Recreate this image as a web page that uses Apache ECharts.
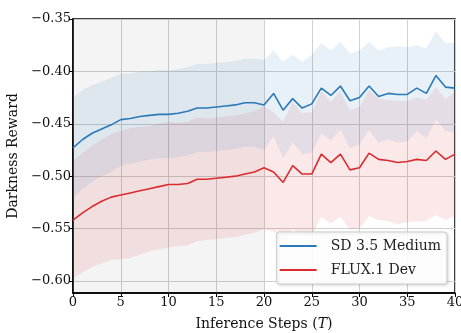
<!DOCTYPE html>
<html><head><meta charset="utf-8">
<script src="https://cdn.jsdelivr.net/npm/echarts@6/dist/echarts.min.js"></script>
<style>html,body{margin:0;padding:0;background:#fff}#c{width:461px;height:333px}</style>
</head><body><div id="c"></div>
<script>
const steps = [0,1,2,3,4,5,6,7,8,9,10,11,12,13,14,15,16,17,18,19,20,21,22,23,24,25,26,27,28,29,30,31,32,33,34,35,36,37,38,39,40];
const blueMean = [-0.473,-0.465,-0.459,-0.455,-0.451,-0.446,-0.445,-0.443,-0.442,-0.441,-0.441,-0.440,-0.438,-0.435,-0.435,-0.434,-0.433,-0.432,-0.430,-0.430,-0.432,-0.421,-0.437,-0.426,-0.435,-0.431,-0.416,-0.423,-0.414,-0.428,-0.425,-0.414,-0.424,-0.421,-0.422,-0.422,-0.416,-0.421,-0.404,-0.415,-0.416];
const blueStd = [0.048,0.047,0.046,0.045,0.045,0.044,0.043,0.043,0.042,0.042,0.042,0.042,0.042,0.042,0.042,0.042,0.042,0.042,0.042,0.042,0.043,0.041,0.046,0.042,0.044,0.047,0.043,0.043,0.042,0.045,0.045,0.042,0.044,0.044,0.046,0.045,0.041,0.043,0.042,0.042,0.043];
const redMean = [-0.542,-0.535,-0.529,-0.524,-0.520,-0.518,-0.516,-0.514,-0.512,-0.510,-0.508,-0.508,-0.507,-0.503,-0.503,-0.502,-0.501,-0.500,-0.498,-0.496,-0.492,-0.496,-0.506,-0.490,-0.498,-0.498,-0.479,-0.487,-0.479,-0.494,-0.492,-0.478,-0.484,-0.485,-0.487,-0.486,-0.484,-0.485,-0.476,-0.484,-0.479];
const redStd = [0.056,0.057,0.058,0.059,0.060,0.061,0.062,0.061,0.060,0.060,0.060,0.059,0.059,0.059,0.058,0.058,0.058,0.058,0.058,0.058,0.059,0.057,0.058,0.061,0.058,0.059,0.060,0.058,0.060,0.057,0.058,0.060,0.058,0.058,0.059,0.058,0.059,0.058,0.061,0.058,0.059];
const yTicks = [-0.60,-0.55,-0.50,-0.45,-0.40,-0.35];
const seriesNames = ['SD 3.5 Medium','FLUX.1 Dev'];
const shadedRange = [0,20];

const FONT = '"DejaVu Serif","Liberation Serif",serif';
const BLUE = '#2a7ab9', RED = '#dc2b2e';
const pairs = (a) => steps.map((s,i)=>[s,a[i]]);

function band(name, mean, std, color){
  return {
    type:'custom', name:name, silent:true, z:1, clip:true,
    data:[[steps[0], mean[0]]],
    renderItem:(params, api)=>{
      const up = steps.map((x,i)=>api.coord([x, mean[i]+std[i]]));
      const lo = steps.map((x,i)=>api.coord([x, mean[i]-std[i]])).reverse();
      return {type:'polygon', shape:{points:up.concat(lo)}, style:{fill:color}};
    }
  };
}

const chart = echarts.init(document.getElementById('c'), null, {renderer:'canvas'});
chart.setOption({
  animation:false,
  backgroundColor:'#fff',
  grid:{left:73,right:6,top:19,bottom:40,containLabel:false,outerBoundsMode:'none',
        show:true,borderColor:'#000',borderWidth:1.5,backgroundColor:'transparent'},
  legend:{
    data:seriesNames, orient:'vertical', right:14, top:232,
    icon:'rect', itemWidth:37, itemHeight:2, itemGap:10,
    padding:[7,6,7,3],
    backgroundColor:'rgba(255,255,255,0.92)', borderColor:'#cccccc', borderWidth:1, borderRadius:3,
    shadowColor:'rgba(0,0,0,0.15)', shadowBlur:3, shadowOffsetX:1, shadowOffsetY:1,
    textStyle:{fontFamily:FONT,fontSize:14,color:'#222',padding:[0,0,0,9]}
  },
  xAxis:{
    type:'value', min:0, max:40, interval:5,
    name:'Inference Steps ({i|T})', nameLocation:'middle', nameGap:24,
    nameTextStyle:{fontFamily:FONT,fontSize:14,color:'#111',rich:{i:{fontFamily:FONT,fontSize:14,fontStyle:'italic',color:'#111'}}},
    axisLine:{show:true,lineStyle:{color:'#000',width:1.5}},
    axisTick:{show:true,inside:false,length:4,lineStyle:{color:'#000',width:1}},
    axisLabel:{fontFamily:FONT,fontSize:13,color:'#111',margin:3},
    splitLine:{show:true,lineStyle:{color:'#cfcfcf',width:1}}
  },
  yAxis:{
    type:'value', min:-0.6115, max:-0.35,
    name:'Darkness Reward', nameLocation:'middle', nameGap:53,
    nameTextStyle:{fontFamily:FONT,fontSize:14,color:'#111'},
    axisLine:{show:true,lineStyle:{color:'#000',width:1.5}},
    axisTick:{show:true,inside:false,length:4,customValues:yTicks,lineStyle:{color:'#000',width:1}},
    axisLabel:{fontFamily:FONT,fontSize:13,color:'#111',margin:2,customValues:yTicks,
      formatter:(v)=>(v<0?'\u2212':'')+Math.abs(v).toFixed(2)},
    splitLine:{show:true,lineStyle:{color:'#cfcfcf',width:1}}
  },
  series:[
    {type:'line',name:'_shade',data:[],silent:true,z:0,
     markArea:{silent:true,itemStyle:{color:'rgba(0,0,0,0.045)'},data:[[{xAxis:shadedRange[0]},{xAxis:shadedRange[1]}]]}},
    band('_redBand', redMean, redStd, 'rgba(220,43,46,0.10)'),
    band('_blueBand', blueMean, blueStd, 'rgba(42,122,185,0.10)'),
    {type:'line',name:seriesNames[0],data:pairs(blueMean),symbol:'none',lineStyle:{color:BLUE,width:1.6},itemStyle:{color:BLUE},z:3},
    {type:'line',name:seriesNames[1],data:pairs(redMean),symbol:'none',lineStyle:{color:RED,width:1.6},itemStyle:{color:RED},z:3}
  ]
});
</script></body></html>
